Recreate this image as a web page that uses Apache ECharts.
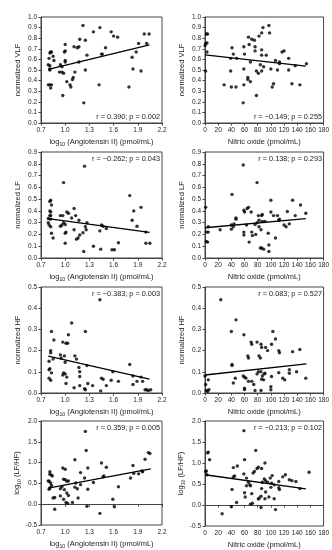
<!DOCTYPE html>
<html><head><meta charset="utf-8">
<script src="https://cdn.jsdelivr.net/npm/echarts@6/dist/echarts.min.js"></script>
<style>html,body{margin:0;padding:0;background:#fff}#c{width:332px;height:550px}</style>
</head><body><div id="c"></div>
<script>
// ---- data: [x, y] pairs per panel ----
const angVLF = [[1.22,0.92],[1.43,0.90],[1.35,0.86],[1.57,0.86],[1.60,0.82],[1.65,0.81],[1.98,0.84],[2.04,0.84],[1.18,0.79],[1.25,0.78],[1.00,0.74],[1.11,0.72],[1.15,0.71],[1.17,0.72],[1.50,0.71],[1.00,0.68],[0.99,0.67],[0.83,0.67],[0.81,0.66],[0.82,0.67],[0.85,0.63],[0.86,0.59],[0.80,0.61],[1.27,0.64],[1.45,0.65],[1.46,0.65],[1.91,0.75],[2.01,0.75],[1.88,0.67],[1.83,0.62],[1.00,0.59],[1.00,0.575],[1.17,0.575],[0.79,0.55],[0.81,0.54],[0.94,0.55],[0.96,0.53],[0.81,0.50],[0.81,0.51],[1.25,0.50],[0.96,0.48],[0.93,0.48],[0.98,0.47],[1.12,0.48],[1.84,0.51],[1.94,0.49],[1.10,0.43],[1.09,0.41],[1.02,0.39],[1.06,0.36],[1.07,0.34],[0.79,0.36],[0.81,0.36],[0.83,0.36],[0.82,0.33],[1.42,0.36],[1.79,0.34],[0.97,0.26],[1.23,0.19]];
const noVLF = [[1,0.49],[2,0.84],[4,0.84],[1,0.75],[3,0.755],[0,0.73],[3,0.67],[29,0.36],[41,0.71],[43,0.65],[39,0.61],[48,0.61],[39,0.49],[40,0.34],[47,0.34],[59,0.72],[60,0.65],[59,0.51],[59,0.36],[58,0.19],[66,0.81],[71,0.79],[75,0.78],[67,0.74],[65,0.43],[65,0.41],[69,0.39],[69,0.575],[76,0.72],[76,0.68],[78,0.49],[81,0.47],[78,0.26],[82,0.82],[86,0.85],[88,0.90],[97,0.92],[98,0.85],[86,0.69],[86,0.64],[84,0.55],[89,0.53],[86,0.49],[93,0.64],[100,0.51],[102,0.34],[104,0.37],[107,0.59],[110,0.50],[113,0.575],[113,0.56],[117,0.67],[120,0.68],[127,0.61],[127,0.50],[132,0.37],[137,0.54],[144,0.36],[154,0.56]];
const angLF = [[1.24,0.78],[0.98,0.64],[1.80,0.53],[0.82,0.49],[0.81,0.48],[0.83,0.45],[1.11,0.42],[1.94,0.43],[1.85,0.40],[0.81,0.40],[0.82,0.39],[1.02,0.39],[1.04,0.38],[0.81,0.36],[0.82,0.36],[0.94,0.36],[0.97,0.36],[1.13,0.36],[1.08,0.34],[1.17,0.32],[0.79,0.335],[0.82,0.33],[1.27,0.30],[1.83,0.32],[0.98,0.30],[1.00,0.285],[0.94,0.27],[0.96,0.28],[0.79,0.30],[0.80,0.28],[0.82,0.265],[1.25,0.265],[1.26,0.24],[1.45,0.28],[1.47,0.27],[1.51,0.25],[1.43,0.23],[1.89,0.27],[0.83,0.21],[0.85,0.17],[1.01,0.22],[1.00,0.21],[1.18,0.195],[1.16,0.17],[1.14,0.16],[1.22,0.215],[1.11,0.24],[2.00,0.125],[2.05,0.125],[1.00,0.125],[1.35,0.10],[1.66,0.13],[1.58,0.07],[1.61,0.07],[1.44,0.075],[1.23,0.055],[2.00,0.22]];
const noLF = [[1,0.43],[2,0.22],[5,0.22],[5,0.265],[2,0.14],[4,0.135],[23,0.24],[41,0.54],[40,0.28],[40,0.245],[43,0.265],[44,0.29],[47,0.34],[47,0.33],[58,0.79],[59,0.405],[60,0.39],[59,0.22],[59,0.195],[63,0.28],[64,0.42],[66,0.43],[67,0.135],[70,0.39],[71,0.22],[72,0.19],[76,0.285],[77,0.20],[79,0.64],[79,0.30],[81,0.36],[82,0.32],[82,0.265],[84,0.085],[85,0.24],[86,0.36],[87,0.37],[87,0.31],[86,0.085],[89,0.075],[91,0.31],[96,0.21],[97,0.11],[97,0.055],[100,0.49],[100,0.39],[104,0.36],[107,0.17],[110,0.36],[112,0.32],[113,0.33],[120,0.28],[123,0.265],[125,0.395],[128,0.29],[133,0.49],[137,0.36],[145,0.45],[153,0.38]];
const angHF = [[1.43,0.44],[1.08,0.33],[1.25,0.29],[0.83,0.29],[1.04,0.275],[0.86,0.25],[0.97,0.24],[1.01,0.235],[1.03,0.235],[0.82,0.20],[0.82,0.19],[0.94,0.18],[0.99,0.175],[1.12,0.175],[1.14,0.16],[0.85,0.16],[0.80,0.15],[0.95,0.165],[1.80,0.135],[1.27,0.13],[1.17,0.12],[1.18,0.10],[1.00,0.145],[0.81,0.115],[0.80,0.11],[0.83,0.095],[1.59,0.10],[1.45,0.07],[1.47,0.065],[1.57,0.06],[1.66,0.055],[1.84,0.08],[1.94,0.075],[1.89,0.055],[1.84,0.04],[0.98,0.095],[1.00,0.09],[0.97,0.085],[1.02,0.075],[0.80,0.07],[0.82,0.06],[1.01,0.045],[1.11,0.025],[1.18,0.035],[1.24,0.02],[1.25,0.015],[1.28,0.045],[1.34,0.035],[1.44,0.01],[1.51,0.035],[1.99,0.015],[2.01,0.015],[2.03,0.012],[2.06,0.015],[1.96,0.055],[1.18,0.078]];
const noHF = [[24,0.44],[47,0.345],[40,0.29],[59,0.275],[103,0.29],[107,0.255],[144,0.205],[70,0.24],[71,0.23],[79,0.24],[85,0.23],[86,0.215],[92,0.215],[65,0.175],[66,0.165],[82,0.175],[84,0.165],[101,0.23],[95,0.20],[112,0.20],[113,0.19],[133,0.195],[41,0.135],[41,0.13],[58,0.08],[60,0.075],[62,0.07],[66,0.055],[71,0.055],[74,0.04],[79,0.09],[81,0.10],[85,0.10],[87,0.08],[86,0.065],[89,0.062],[91,0.093],[90,0.09],[100,0.03],[100,0.015],[101,0.078],[112,0.096],[118,0.07],[121,0.062],[128,0.11],[128,0.093],[139,0.10],[153,0.07],[43,0.047],[46,0.07],[60,0.023],[60,0.016],[76,0.012],[85,0.012],[0,0.08],[1,0.04],[2,0.012],[4,0.008],[5,0.062],[6,0.016]];
const angLFHF = [[1.25,1.75],[1.26,1.29],[1.12,1.07],[2.03,1.24],[2.05,1.22],[1.99,1.08],[0.97,0.87],[1.00,0.84],[1.28,0.87],[1.45,0.99],[1.51,0.89],[1.84,0.93],[0.81,0.78],[0.81,0.72],[0.83,0.70],[0.84,0.68],[1.19,0.76],[1.47,0.66],[1.48,0.68],[1.24,0.63],[1.85,0.74],[1.91,0.73],[1.95,0.80],[1.96,0.78],[1.81,0.63],[0.98,0.60],[1.00,0.59],[1.02,0.55],[1.04,0.56],[0.79,0.56],[0.80,0.55],[0.82,0.51],[1.19,0.47],[1.13,0.51],[1.35,0.52],[1.66,0.42],[0.83,0.45],[0.81,0.39],[0.80,0.36],[0.96,0.42],[0.94,0.37],[0.99,0.35],[1.12,0.41],[1.15,0.37],[1.28,0.36],[1.02,0.27],[1.04,0.21],[0.94,0.20],[0.98,0.12],[0.85,0.15],[0.87,0.16],[1.16,0.15],[1.09,0.04],[1.01,0.04],[1.03,0.02],[1.59,0.12],[1.61,-0.06],[1.27,-0.05],[0.87,-0.12],[1.43,-0.22]];
const noLFHF = [[59,1.77],[77,1.30],[4,1.24],[5,1.26],[7,1.08],[60,1.08],[1,0.80],[2,0.81],[3,0.72],[43,0.89],[49,0.93],[79,0.87],[81,0.90],[86,0.87],[91,1.00],[59,0.74],[73,0.76],[75,0.80],[158,0.78],[43,0.67],[45,0.69],[63,0.64],[66,0.54],[68,0.48],[63,0.46],[69,0.46],[90,0.62],[92,0.58],[87,0.54],[95,0.54],[99,0.64],[102,0.70],[101,0.52],[105,0.48],[100,0.42],[118,0.67],[122,0.72],[128,0.60],[132,0.58],[138,0.56],[112,0.56],[112,0.41],[113,0.37],[144,0.39],[41,0.37],[60,0.29],[71,0.27],[86,0.39],[85,0.21],[92,0.31],[61,0.19],[81,0.14],[82,0.16],[91,0.15],[97,0.19],[105,0.15],[72,0.04],[69,0.02],[48,0.06],[40,-0.04],[85,-0.06],[107,-0.11],[26,-0.21]];

// regression line end points
const fitAngVLF = [[0.79,0.506],[2.045,0.736]];
const fitNoVLF = [[0,0.643],[153,0.537]];
const fitAngLF = [[0.79,0.335],[2.045,0.218]];
const fitNoLF = [[0,0.257],[153,0.335]];
const fitAngHF = [[0.79,0.174],[2.045,0.065]];
const fitNoHF = [[0,0.085],[154,0.137]];
const fitAngLFHF = [[0.79,0.385],[2.06,0.85]];
const fitNoLFHF = [[0,0.72],[153,0.385]];

const statTexts = ['r = 0.390; p = 0.002','r = \u22120.149; p = 0.255','r = \u22120.262; p = 0.043','r = 0.138; p = 0.293','r = \u22120.383; p = 0.003','r = 0.083; p = 0.527','r = 0.359; p = 0.005','r = \u22120.213; p = 0.102'];
const yNames = ['normalized VLF','normalized LF','normalized HF','{a|log}{s|10}{a| (LF/HF)}'];
const xNames = ['{a|log}{s|10}{a| (Angiotensin II) (pmol/mL)}','{a|Nitric oxide (pmol/mL)}'];
const yMin = [0,0,0,-0.5], yMax = [1.0,0.9,0.5,2.0], yStep = [0.1,0.1,0.1,0.5];
const xMin = [0.7,0], xMax = [2.2,180], xStep = [0.3,20];

const scatterSets = [angVLF,noVLF,angLF,noLF,angHF,noHF,angLFHF,noLFHF];
const fitSets = [fitAngVLF,fitNoVLF,fitAngLF,fitNoLF,fitAngHF,fitNoHF,fitAngLFHF,fitNoLFHF];

// ---- layout ----
const colLeft = [41,205], colWidth = [121,119];
const rowTop = [17,152,287,421], rowH = 106;
const FONT = 'Liberation Sans, Arial, sans-serif';
const txt = '#222', frame = '#444';
const rich = {a:{fontSize:7.5, fontFamily:FONT, color:txt, lineHeight:10}, s:{fontSize:5.2, fontFamily:FONT, color:txt, lineHeight:10, verticalAlign:'bottom', padding:[4,0,0,0]}};

const grids=[], xAxes=[], yAxes=[], series=[], graphics=[];
for (let i=0;i<8;i++){
  const r = Math.floor(i/2), c = i%2;
  grids.push({left:colLeft[c], top:rowTop[r], width:colWidth[c], height:rowH, show:true, borderColor:frame, borderWidth:1, backgroundColor:'transparent'});
  xAxes.push({gridIndex:i, type:'value', min:xMin[c], max:xMax[c], interval:xStep[c],
    name:xNames[c], nameLocation:'middle', nameGap:14, nameTextStyle:{rich:rich, fontSize:7.5, fontFamily:FONT, color:txt},
    axisLine:{show:true, lineStyle:{color:frame, width:1}}, axisTick:{show:true, length:2.5, lineStyle:{color:frame}},
    splitLine:{show:false}, axisLabel:{fontSize:6.5, fontFamily:FONT, color:txt, margin:4, formatter: v => c===0 ? v.toFixed(1) : String(Math.round(v))}});
  yAxes.push({gridIndex:i, type:'value', min:yMin[r], max:yMax[r], interval:yStep[r],
    name:yNames[r], nameLocation:'middle', nameGap:19, nameRotate:90, nameTextStyle:{rich:rich, fontSize:7.5, fontFamily:FONT, color:txt},
    axisLine:{show:true, lineStyle:{color:frame, width:1}}, axisTick:{show:true, length:2.5, lineStyle:{color:frame}},
    splitLine:{show:false}, axisLabel:{fontSize:6.5, fontFamily:FONT, color:txt, margin:4, formatter: v => v.toFixed(1)}});
  series.push({type:'scatter', xAxisIndex:i, yAxisIndex:i, data:scatterSets[i], symbol:'circle', symbolSize:3.4, itemStyle:{color:'#000'}, silent:true, animation:false});
  series.push({type:'line', xAxisIndex:i, yAxisIndex:i, data:fitSets[i], symbol:'none', lineStyle:{color:'#000', width:1.3}, silent:true, animation:false});
  const tx = colLeft[c] + colWidth[c] - 2;
  const ty = (r===0) ? rowTop[r] + rowH - 6 : rowTop[r] + 6.5;
  graphics.push({type:'text', x:tx, y:ty, style:{text:statTexts[i], fontSize:7.3, fontFamily:FONT, fill:txt, align:'right', verticalAlign:'middle'}, silent:true});
}

const chart = echarts.init(document.getElementById('c'), null, {renderer:'canvas'});
chart.setOption({animation:false, backgroundColor:'#fff', grid:grids, xAxis:xAxes, yAxis:yAxes, series:series, graphic:graphics});
</script>
</body></html>
